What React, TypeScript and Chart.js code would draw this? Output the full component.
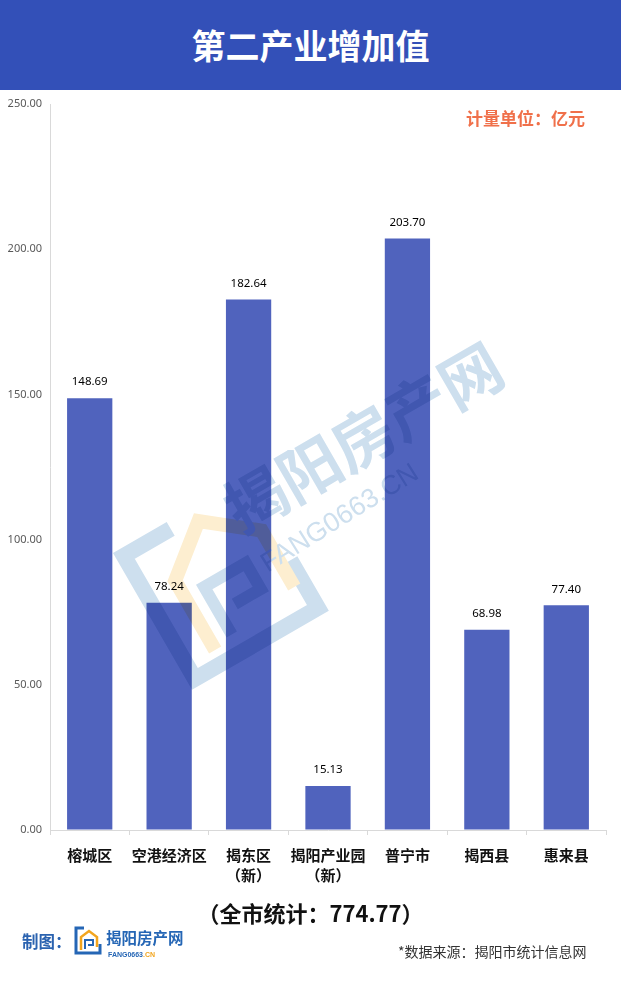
import React, { useEffect, useRef } from "react";
import { Chart, registerables } from "chart.js";

Chart.register(...registerables);

const categories: (string | string[])[] = [
  "榕城区",
  "空港经济区",
  ["揭东区", "（新）"],
  ["揭阳产业园", "（新）"],
  "普宁市",
  "揭西县",
  "惠来县",
];
const values: number[] = [148.69, 78.24, 182.64, 15.13, 203.7, 68.98, 77.4];
const yMax = 250;
const yStep = 50;
const titleText = "第二产业增加值";
const unitText = "计量单位：亿元";
const totalText = "（全市统计：774.77）";
const sourceText = "*数据来源：揭阳市统计信息网";

const CJK = '"Noto Sans CJK SC", "Noto Sans", sans-serif';

const valueLabels = {
  id: "valueLabels",
  afterDatasetsDraw(chart: any) {
    const ctx = chart.ctx;
    const meta = chart.getDatasetMeta(0);
    ctx.save();
    ctx.font = '11.5px "Noto Sans", sans-serif';
    ctx.fillStyle = "#000";
    ctx.textAlign = "center";
    ctx.textBaseline = "middle";
    meta.data.forEach((bar: any, i: number) => {
      ctx.fillText(values[i].toFixed(2), bar.x, bar.y - 16);
    });
    ctx.restore();
  },
};

export default function App() {
  const ref = useRef<HTMLCanvasElement | null>(null);

  useEffect(() => {
    document.body.style.margin = "0";
    if (!ref.current) return;
    const chart = new Chart(ref.current, {
      type: "bar",
      data: {
        labels: categories,
        datasets: [
          {
            data: values,
            backgroundColor: "#5063bd",
            categoryPercentage: 1,
            barPercentage: 0.57,
          },
        ],
      },
      options: {
        animation: false,
        responsive: true,
        maintainAspectRatio: false,
        layout: { padding: { top: 104, left: 0, right: 15, bottom: 93 } },
        plugins: {
          legend: { display: false },
          tooltip: { enabled: false },
          title: { display: false },
        },
        scales: {
          x: {
            afterFit: (s: any) => {
              s.height = 60;
            },
            grid: {
              drawOnChartArea: false,
              drawTicks: true,
              tickLength: 5,
              color: "#d9d9d9",
            },
            border: { color: "#d9d9d9" },
            ticks: {
              color: "#111",
              padding: 10,
              maxRotation: 0,
              autoSkip: false,
              font: { family: CJK, size: 15, weight: "bold", lineHeight: 1.34 },
            },
          },
          y: {
            min: 0,
            max: yMax,
            afterFit: (s: any) => {
              s.width = 50;
            },
            grid: { drawOnChartArea: false, drawTicks: false },
            border: { color: "#d9d9d9" },
            ticks: {
              stepSize: yStep,
              padding: 8,
              color: "#595959",
              font: { family: '"Noto Sans", sans-serif', size: 11 },
              callback: (v: any) => Number(v).toFixed(2),
            },
          },
        },
      },
      plugins: [valueLabels],
    });
    return () => chart.destroy();
  }, []);

  const wmFill = "rgb(205,223,238)";
  const wmYellow = "rgb(253,238,208)";

  return (
    <div
      style={{
        position: "absolute",
        left: 0,
        top: 0,
        width: 621,
        height: 983,
        background: "#fff",
        overflow: "hidden",
        fontFamily: CJK,
      }}
    >
      <div style={{ position: "absolute", left: 0, top: 0, width: 621, height: 983 }}>
        <canvas ref={ref} />
      </div>
      <div
        style={{
          position: "absolute",
          left: 0,
          top: 0,
          width: 621,
          height: 90,
          background: "#3350b8",
          color: "#fff",
          fontSize: 34,
          fontWeight: "bold",
          lineHeight: "90px",
          textAlign: "center",
        }}
      >
        {titleText}
      </div>
      <div
        style={{
          position: "absolute",
          left: 466,
          top: 107,
          fontSize: 17,
          lineHeight: "22px",
          fontWeight: "bold",
          color: "#f0704a",
          whiteSpace: "nowrap",
        }}
      >
        {unitText}
      </div>
      <svg
        width={621}
        height={983}
        style={{ position: "absolute", left: 0, top: 0, mixBlendMode: "multiply", pointerEvents: "none" }}
      >
        <g transform="translate(113,553) rotate(-30)">
          <path
            d="M 62 8 L 8 8 L 8 150 L 150 150 L 150 95"
            fill="none"
            stroke={wmFill}
            strokeWidth={16}
          />
          <path
            d="M 40 135 L 40 55 L 90 15 L 140 55 L 140 120"
            fill="none"
            stroke={wmYellow}
            strokeWidth={14}
          />
          <path
            d="M 62 130 L 62 75 L 110 75 L 110 105 L 80 105"
            fill="none"
            stroke={wmFill}
            strokeWidth={12}
          />
        </g>
        <text
          x={375}
          y={458}
          textAnchor="middle"
          transform="rotate(-30 375 458)"
          fontSize={62}
          fontWeight="bold"
          fill={wmFill}
          fontFamily={CJK}
        >
          揭阳房产网
        </text>
        <text
          x={344}
          y={525}
          textAnchor="middle"
          transform="rotate(-32 344 525)"
          fontSize={27}
          fill={wmFill}
          fontFamily='"Liberation Sans", sans-serif'
        >
          FANG0663.CN
        </text>
      </svg>
      <div
        style={{
          position: "absolute",
          left: 0,
          width: 621,
          top: 897,
          fontSize: 22,
          lineHeight: "30px",
          fontWeight: "bold",
          color: "#111",
          textAlign: "center",
          paddingLeft: 0,
          whiteSpace: "nowrap",
        }}
      >
        {totalText}
      </div>
      <div
        style={{
          position: "absolute",
          left: 22,
          top: 930,
          fontSize: 16.5,
          lineHeight: "22px",
          fontWeight: "bold",
          color: "#2b63b0",
          whiteSpace: "nowrap",
        }}
      >
        制图：
      </div>
      <svg width={30} height={30} style={{ position: "absolute", left: 73, top: 926 }}>
        <path d="M 11 2 L 3 2 L 3 27 L 27 27 L 27 18" fill="none" stroke="#2566b5" strokeWidth={3} />
        <path d="M 8 24 L 8 11 L 16 5 L 24 11 L 24 21" fill="none" stroke="#f2a51e" strokeWidth={2.5} />
        <path d="M 12 23 L 12 14 L 20 14 L 20 19 L 15 19" fill="none" stroke="#2566b5" strokeWidth={2} />
      </svg>
      <div
        style={{
          position: "absolute",
          left: 106,
          top: 927,
          fontSize: 15.5,
          lineHeight: "20px",
          fontWeight: "bold",
          color: "#2566b5",
          whiteSpace: "nowrap",
          letterSpacing: 0,
        }}
      >
        揭阳房产网
      </div>
      <div
        style={{
          position: "absolute",
          left: 108,
          top: 950,
          fontSize: 7,
          lineHeight: "9px",
          fontWeight: "bold",
          color: "#2566b5",
          whiteSpace: "nowrap",
          fontFamily: '"Liberation Sans", sans-serif',
        }}
      >
        FANG0663<span style={{ color: "#f2a51e" }}>.CN</span>
      </div>
      <div
        style={{
          position: "absolute",
          left: 398,
          top: 941,
          fontSize: 14,
          lineHeight: "20px",
          color: "#333",
          whiteSpace: "nowrap",
        }}
      >
        {sourceText}
      </div>
    </div>
  );
}
